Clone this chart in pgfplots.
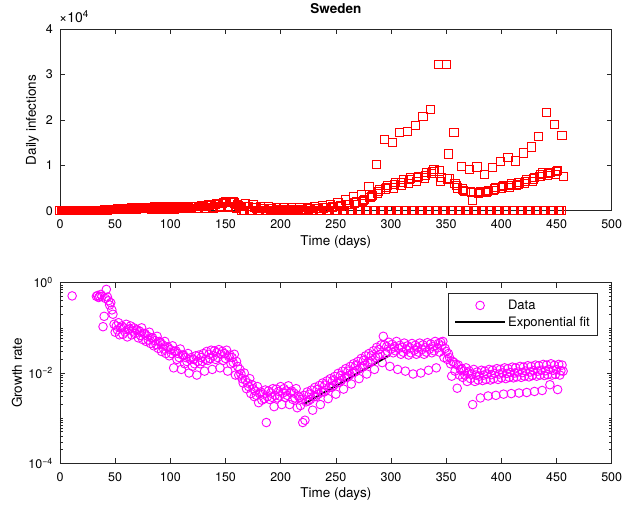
\documentclass[border=0pt]{standalone}
\usepackage{fontspec}
\setmainfont{TeX Gyre Heros}
\usepackage{pgfplots}
\pgfplotsset{compat=1.18}
\definecolor{mmag}{rgb}{1,0,1}
\definecolor{axc}{rgb}{0.15,0.15,0.15}
\pgfplotsset{mstyle/.style={
  scale only axis, width=551.7pt,
  xmin=0, xmax=500, xtick={0,50,...,500},
  tick align=inside, major tick length=5pt, minor tick length=2.7pt,
  axis line style={line width=0.6pt, axc},
  every tick/.style={line width=0.5pt, axc},
  /pgf/number format/assume math mode=true,
  tick label style={font=\fontsize{12.5}{15}\selectfont},
  xticklabel style={inner sep=0pt, anchor=center, yshift=-13.5pt},
  yticklabel style={inner sep=0pt, anchor=east, xshift=-7pt},
  label style={font=\fontsize{13.5}{16}\selectfont},
  xlabel={Time (days)},
  xlabel style={at={(axis description cs:0.5,0)}, anchor=center, yshift=-31pt},
  clip=false,
},
sq/.style={only marks, mark=square, mark size=4.1pt, red, mark options={solid, draw=red, fill=none, line width=1pt}}}
\begin{document}
\begin{tikzpicture}
\useasboundingbox (0,0) rectangle (625pt,509pt);
\begin{axis}[mstyle, at={(60pt,298.3pt)}, anchor=south west, height=181.4pt,
  ymin=0, ymax=40000, ytick={0,10000,20000,30000,40000}, yticklabels={0,1,2,3,4},
  scaled y ticks=false,
  ylabel={Daily infections},
  ylabel style={at={(axis description cs:-0.05,0.5)}, anchor=center},
  title={Sweden},
  title style={font=\fontsize{13.5}{16}\selectfont\bfseries, at={(axis description cs:0.5,1)}, anchor=center, yshift=15pt},
]
% Tuesday reports (including the weekend backlog)
\addplot[sq] coordinates {
(168,1600)(175,1300)(182,1000)(189,800)(196,700)(203,650)(210,600)(217,650)(224,750)(231,900)(238,1100)(245,1400)
(252,1800)(259,2350)(266,3070)(273,3440)(280,5260)(287,10170)(294,15700)(301,15070)(308,17260)(315,17550)(322,18720)
(329,20840)(336,22230)(343,32320)(350,32170)(357,17330)(364,9800)(371,9150)(378,9650)(385,8050)(392,9580)(399,10900)
(406,11700)(413,10960)(420,12720)(427,14040)(434,16380)(441,21700)(448,19000)(455,16600)
};
% daily reports, days 0-164
\addplot[sq] coordinates {
(0,0)(1,0)(2,0)(3,0)(4,0)(5,0)(6,0)(7,0)(8,0)(9,0)(10,1)(11,0)(12,0)(13,0)(14,0)(15,0)(16,0)(17,0)(18,0)(19,0)
(20,0)(21,0)(22,0)(23,0)(24,0)(25,1)(26,2)(27,5)(28,3)(29,7)(30,12)(31,15)(32,20)(33,35)(34,45)(35,60)(36,80)(37,70)(38,100)(39,130)
(40,160)(41,120)(42,110)(43,150)(44,200)(45,180)(46,250)(47,230)(48,180)(49,210)(50,300)(51,350)(52,380)(53,420)(54,400)(55,330)(56,300)(57,450)(58,500)(59,550)
(60,520)(61,420)(62,350)(63,480)(64,560)(65,600)(66,620)(67,640)(68,460)(69,380)(70,560)(71,650)(72,700)(73,690)(74,720)(75,480)(76,400)(77,650)(78,720)(79,780)
(80,760)(81,700)(82,420)(83,380)(84,680)(85,750)(86,800)(87,780)(88,790)(89,400)(90,350)(91,700)(92,780)(93,820)(94,800)(95,810)(96,450)(97,380)(98,720)(99,800)
(100,850)(101,830)(102,870)(103,450)(104,350)(105,740)(106,800)(107,860)(108,850)(109,880)(110,480)(111,400)(112,780)(113,850)(114,900)(115,880)(116,870)(117,500)(118,420)(119,800)
(120,880)(121,920)(122,950)(123,930)(124,520)(125,450)(126,900)(127,980)(128,1050)(129,1100)(130,1080)(131,600)(132,520)(133,1050)(134,1150)(135,1250)(136,1300)(137,1280)(138,700)(139,600)
(140,1300)(141,1450)(142,1500)(143,1600)(144,1550)(145,850)(146,700)(147,1600)(148,1750)(149,1850)(150,1900)(151,1800)(152,950)(153,800)(154,1800)(155,1950)(156,2000)(157,1900)(158,1700)(159,800)
(160,600)(161,1300)(162,1200)(163,1000)(164,900)
};
% weekend zeros (Sat-Mon), days 165-454
\addplot[sq] coordinates {
(165,0)(166,0)(167,0)(172,0)(173,0)(174,0)(179,0)(180,0)(181,0)(186,0)(187,0)(188,0)(193,0)(194,0)(195,0)
(200,0)(201,0)(202,0)(207,0)(208,0)(209,0)(214,0)(215,0)(216,0)(221,0)(222,0)(223,0)(228,0)(229,0)(230,0)
(235,0)(236,0)(237,0)(242,0)(243,0)(244,0)(249,0)(250,0)(251,0)(256,0)(257,0)(258,0)(263,0)(264,0)(265,0)
(270,0)(271,0)(272,0)(277,0)(278,0)(279,0)(284,0)(285,0)(286,0)(291,0)(292,0)(293,0)(298,0)(299,0)(300,0)
(305,0)(306,0)(307,0)(312,0)(313,0)(314,0)(319,0)(320,0)(321,0)(326,0)(327,0)(328,0)(333,0)(334,0)(335,0)
(340,0)(341,0)(342,0)(347,0)(348,0)(349,0)(354,0)(355,0)(356,0)(361,0)(362,0)(363,0)(368,0)(369,0)(370,0)
(375,0)(376,0)(377,0)(382,0)(383,0)(384,0)(389,0)(390,0)(391,0)(396,0)(397,0)(398,0)(403,0)(404,0)(405,0)
(410,0)(411,0)(412,0)(417,0)(418,0)(419,0)(424,0)(425,0)(426,0)(431,0)(432,0)(433,0)(438,0)(439,0)(440,0)
(445,0)(446,0)(447,0)(452,0)(453,0)(454,0)
};
% Wednesday-Friday reports
\addplot[sq] coordinates {
(169,1000)(170,900)(171,850)(176,700)(177,650)(178,600)(183,500)(184,480)(185,450)(190,400)(191,380)(192,360)
(197,350)(198,330)(199,320)(204,300)(205,320)(206,300)(211,300)(212,280)(213,300)(218,320)(219,300)(220,330)
(225,380)(226,400)(227,420)(232,450)(233,500)(234,520)(239,600)(240,620)(241,650)(246,750)(247,800)(248,850)
(253,1000)(254,1050)(255,1100)(260,1300)(261,1400)(262,1450)(267,1700)(268,1800)(269,1900)(274,2100)(275,2300)(276,2400)
(281,2900)(282,3100)(283,3400)(288,3800)(289,4300)(290,4600)(295,4800)(296,5200)(297,5500)(302,5000)(303,5800)(304,6200)
(309,5500)(310,6300)(311,6800)(316,6000)(317,6800)(318,7200)(323,6500)(324,7300)(325,7600)(330,7200)(331,7800)(332,8400)
(337,8200)(338,8700)(339,9000)(344,8770)(345,6500)(346,7300)(351,7000)(352,12500)(353,7100)(358,6000)(359,5500)(360,5000)
(365,4800)(366,4500)(367,4200)(372,4300)(373,4000)(374,2350)(379,3800)(380,4000)(381,4300)(386,4000)(387,4200)(388,4500)
(393,4500)(394,4800)(395,5100)(400,5000)(401,5300)(402,5500)(407,5200)(408,5600)(409,5900)(414,5500)(415,5800)(416,6200)
(421,6000)(422,6400)(423,6800)(428,6500)(429,7000)(430,7400)(435,7500)(436,8000)(437,8300)(442,7800)(443,8200)(444,8500)
(449,7900)(450,8600)(451,8900)(456,7500)
};
\end{axis}
\node[anchor=base west, font=\fontsize{14}{16}\selectfont, inner sep=0pt] at (59pt,486pt) {×10\textsuperscript{4}};
\begin{axis}[mstyle, at={(60pt,45.7pt)}, anchor=south west, height=180.6pt,
  ymode=log, ymin=1e-4, ymax=1, ytick={1e-4,1e-2,1},
  yticklabels={10\textsuperscript{−4},10\textsuperscript{−2},10\textsuperscript{0}},
  minor ytick={2e-4,3e-4,4e-4,5e-4,6e-4,7e-4,8e-4,9e-4,1e-3,2e-3,3e-3,4e-3,5e-3,6e-3,7e-3,8e-3,9e-3,2e-2,3e-2,4e-2,5e-2,6e-2,7e-2,8e-2,9e-2,1e-1,2e-1,3e-1,4e-1,5e-1,6e-1,7e-1,8e-1,9e-1},
  ylabel={Growth rate},
  ylabel style={at={(axis description cs:-0.078,0.5)}, anchor=center},
  legend style={at={(axis description cs:1,1)}, anchor=north east, xshift=-13.7pt, yshift=-10pt,
    draw=axc, line width=0.5pt, font=\fontsize{13}{15.5}\selectfont,
    inner xsep=6pt, inner ysep=5pt, row sep=2pt, nodes={inner sep=2pt}, cells={anchor=west}},
  legend cell align=left,
  legend image code/.code={\draw[mark repeat=2,mark phase=2,#1] plot coordinates {(0pt,0pt) (25pt,0pt) (50pt,0pt)};},
]
\addplot[only marks, mark=o, mark size=4.3pt, color=mmag, mark options={solid, draw=mmag, fill=none, line width=0.9pt}] coordinates {
(11,0.51)(33,0.5)(34,0.52)(35,0.47)(36,0.5)(37,0.55)(38,0.5)(39,0.106)(40,0.18)(41,0.45)(42,0.71)(43,0.48)(44,0.4)(45,0.32)(46,0.36)(47,0.25)(48,0.2)
(49,0.12)(50,0.08)(51,0.11)(52,0.09)(53,0.13)(54,0.07)(55,0.1)
(56,0.11)(57,0.072)(58,0.1)(59,0.081)(60,0.12)(61,0.063)(62,0.09)
(63,0.095)(64,0.11)(65,0.07)(66,0.085)(67,0.1)(68,0.075)(69,0.09)
(70,0.09)(71,0.06)(72,0.085)(73,0.068)(74,0.1)(75,0.055)(76,0.075)
(77,0.075)(78,0.05)(79,0.066)(80,0.054)(81,0.08)(82,0.045)(83,0.06)
(84,0.06)(85,0.04)(86,0.052)(87,0.043)(88,0.065)(89,0.035)(90,0.05)
(91,0.048)(92,0.03)(93,0.042)(94,0.034)(95,0.05)(96,0.027)(97,0.038)
(98,0.037)(99,0.024)(100,0.033)(101,0.027)(102,0.04)(103,0.013)(104,0.03)
(105,0.031)(106,0.02)(107,0.027)(108,0.022)(109,0.034)(110,0.012)(111,0.025)
(112,0.025)(113,0.016)(114,0.022)(115,0.018)(116,0.027)(117,0.01)(118,0.02)
(119,0.022)(120,0.014)(121,0.02)(122,0.016)(123,0.024)(124,0.009)(125,0.018)
(126,0.025)(127,0.016)(128,0.022)(129,0.018)(130,0.027)(131,0.011)(132,0.02)
(133,0.03)(134,0.019)(135,0.026)(136,0.021)(137,0.032)(138,0.012)(139,0.024)
(140,0.031)(141,0.02)(142,0.028)(143,0.022)(144,0.033)(145,0.013)(146,0.026)
(147,0.03)(148,0.019)(149,0.027)(150,0.021)(151,0.032)(152,0.011)(153,0.023)
(154,0.025)(155,0.016)(156,0.022)(157,0.017)(158,0.026)(159,0.009)(160,0.018)
(161,0.014)(162,0.009)(163,0.012)(164,0.0095)(165,0.0075)(166,0.006)(167,0.01)
(168,0.007)(169,0.0045)(170,0.006)(171,0.005)(172,0.0075)(173,0.0035)(174,0.0055)
(175,0.0045)(176,0.003)(177,0.004)(178,0.0032)(179,0.005)(180,0.0022)(181,0.0035)
(182,0.0038)(183,0.0025)(184,0.0034)(185,0.0027)(186,0.0042)(187,0.0008)(188,0.003)
(189,0.004)(190,0.0026)(191,0.0036)(192,0.0029)(193,0.0045)(194,0.0018)(195,0.0032)
(196,0.0044)(197,0.0028)(198,0.0039)(199,0.0031)(200,0.005)(201,0.002)(202,0.0036)
(203,0.0045)(204,0.0029)(205,0.004)(206,0.0032)(207,0.0052)(208,0.002)(209,0.0037)
(210,0.004)(211,0.0026)(212,0.0036)(213,0.0028)(214,0.0045)(215,0.0017)(216,0.0031)
(217,0.0029)(218,0.0019)(219,0.0026)(220,0.0008)(221,0.0032)(222,0.0009)(223,0.0023)
(224,0.0038)(225,0.0024)(226,0.0034)(227,0.0026)(228,0.0042)(229,0.0015)(230,0.003)
(231,0.0048)(232,0.003)(233,0.0043)(234,0.0034)(235,0.0053)(236,0.002)(237,0.0038)
(238,0.006)(239,0.0038)(240,0.0054)(241,0.0042)(242,0.0067)(243,0.0027)(244,0.0048)
(245,0.0075)(246,0.0048)(247,0.0067)(248,0.0053)(249,0.0084)(250,0.0034)(251,0.006)
(252,0.0098)(253,0.0062)(254,0.0087)(255,0.0069)(256,0.011)(257,0.0044)(258,0.0078)
(259,0.0125)(260,0.008)(261,0.011)(262,0.0088)(263,0.014)(264,0.0057)(265,0.01)
(266,0.016)(267,0.0104)(268,0.0145)(269,0.0115)(270,0.018)(271,0.0075)(272,0.013)
(273,0.021)(274,0.0135)(275,0.019)(276,0.015)(277,0.024)(278,0.0095)(279,0.017)
(280,0.027)(281,0.0175)(282,0.024)(283,0.019)(284,0.031)(285,0.012)(286,0.022)
(287,0.037)(288,0.024)(289,0.033)(290,0.026)(291,0.042)(292,0.017)(293,0.065)
(294,0.042)(295,0.027)(296,0.038)(297,0.03)(298,0.048)(299,0.014)(300,0.034)
(301,0.043)(302,0.028)(303,0.038)(304,0.031)(305,0.05)(306,0.012)(307,0.035)
(308,0.041)(309,0.026)(310,0.037)(311,0.029)(312,0.046)(313,0.011)(314,0.033)
(315,0.04)(316,0.025)(317,0.036)(318,0.028)(319,0.045)(320,0.0095)(321,0.032)
(322,0.041)(323,0.026)(324,0.037)(325,0.029)(326,0.046)(327,0.01)(328,0.033)
(329,0.042)(330,0.026)(331,0.037)(332,0.029)(333,0.047)(334,0.0115)(335,0.034)
(336,0.044)(337,0.028)(338,0.039)(339,0.031)(340,0.05)(341,0.013)(342,0.036)
(343,0.045)(344,0.029)(345,0.048)(346,0.04)(347,0.05)(348,0.022)(349,0.035)
(350,0.03)(351,0.02)(352,0.027)(353,0.022)(354,0.016)(355,0.0085)(356,0.018)
(357,0.017)(358,0.011)(359,0.0155)(360,0.0046)(361,0.015)(362,0.009)(363,0.012)
(364,0.0125)(365,0.008)(366,0.011)(367,0.009)(368,0.013)(369,0.0065)(370,0.01)
(371,0.011)(372,0.0075)(373,0.0095)(374,0.002)(375,0.012)(376,0.0065)(377,0.009)
(378,0.0105)(379,0.007)(380,0.0085)(381,0.0028)(382,0.0115)(383,0.0068)(384,0.009)
(385,0.011)(386,0.0072)(387,0.0095)(388,0.0031)(389,0.012)(390,0.007)(391,0.0092)
(392,0.0115)(393,0.0075)(394,0.0098)(395,0.0032)(396,0.0125)(397,0.0072)(398,0.0095)
(399,0.012)(400,0.0078)(401,0.01)(402,0.0034)(403,0.013)(404,0.0075)(405,0.0098)
(406,0.0125)(407,0.008)(408,0.0102)(409,0.0035)(410,0.0135)(411,0.0078)(412,0.01)
(413,0.013)(414,0.0082)(415,0.0105)(416,0.0036)(417,0.014)(418,0.008)(419,0.0102)
(420,0.0135)(421,0.0085)(422,0.011)(423,0.0037)(424,0.0145)(425,0.0082)(426,0.0105)
(427,0.014)(428,0.0088)(429,0.0112)(430,0.0039)(431,0.015)(432,0.0085)(433,0.011)
(434,0.0145)(435,0.009)(436,0.0115)(437,0.0041)(438,0.0155)(439,0.0088)(440,0.0112)
(441,0.015)(442,0.0092)(443,0.012)(444,0.0055)(445,0.016)(446,0.009)(447,0.0115)
(448,0.0148)(449,0.0093)(450,0.0118)(451,0.0043)(452,0.0155)(453,0.009)(454,0.0112)
(455,0.015)(456,0.011)
};
\addlegendentry{Data}
\addplot[black, line width=2pt] coordinates {(221,0.00205) (299,0.025)};
\addlegendentry{Exponential fit}
\end{axis}
\end{tikzpicture}
\end{document}
